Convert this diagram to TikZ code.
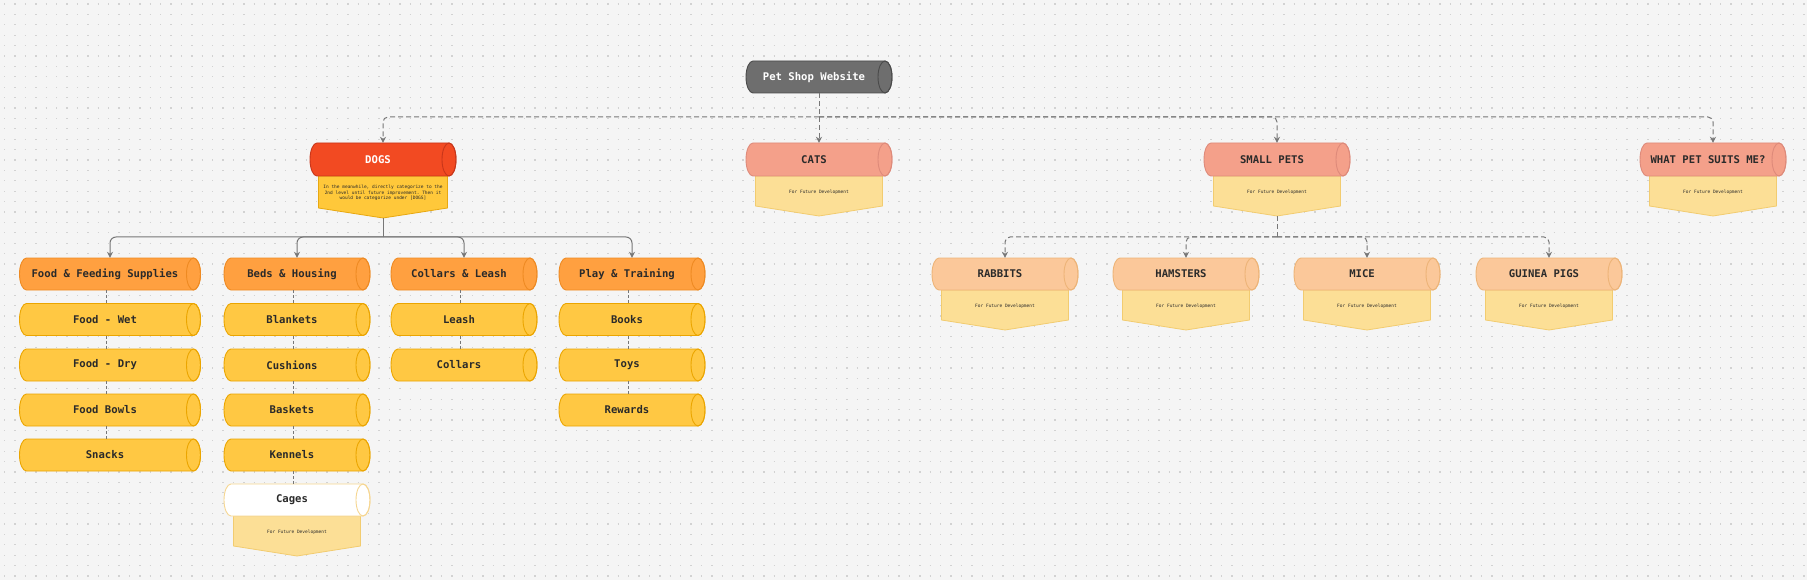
\documentclass[tikz,border=0pt]{standalone}
\usepackage{fontspec}
\setmonofont{DejaVu Sans Mono}
\usetikzlibrary{arrows.meta}
\definecolor{bg}{HTML}{F5F5F5}
\definecolor{dotc}{HTML}{D2D2D2}
\definecolor{rootf}{HTML}{6E6E6E}\definecolor{rootd}{HTML}{4A4A4A}
\definecolor{dogf}{HTML}{F24A22}\definecolor{dogd}{HTML}{C8361A}
\definecolor{lvf}{HTML}{F4A08A}\definecolor{lvd}{HTML}{DE8A7A}
\definecolor{catf}{HTML}{FFA040}\definecolor{catd}{HTML}{EE8A22}
\definecolor{itf}{HTML}{FFC843}\definecolor{itd}{HTML}{EBA500}
\definecolor{notef}{HTML}{FCDF96}\definecolor{noted}{HTML}{F2CC70}
\definecolor{dnotef}{HTML}{FFC83A}\definecolor{dnoted}{HTML}{E8A810}
\definecolor{spf}{HTML}{FBC89A}\definecolor{spd}{HTML}{EDB478}
\definecolor{cagef}{HTML}{FFFFFF}\definecolor{caged}{HTML}{F6D690}
\definecolor{txt}{HTML}{2A2A2A}\definecolor{lnc}{HTML}{777777}
\tikzset{
  lbl/.style={font=\ttfamily\bfseries\fontsize{10.6}{12}\selectfont,text=txt,inner sep=0pt},
  small/.style={font=\ttfamily\fontsize{4.5}{5.6}\selectfont,text=txt,inner sep=0pt,align=center},
  link/.style={draw=lnc,line width=1pt,dashed,dash pattern=on 5pt off 3pt,rounded corners=5pt},
  solidlink/.style={draw=lnc,line width=1pt,rounded corners=6pt},
  tip/.style={-{Stealth[length=6pt,width=6pt]}},
}
% \cyl{name}{cx}{cy}{w}{h}{fill}{draw}{text}
\newcommand\cyl[8]{%
  \pgfmathsetmacro\xa{#2-#4/2}\pgfmathsetmacro\xb{#2+#4/2}%
  \pgfmathsetmacro\yt{#3+#5/2}\pgfmathsetmacro\yb{#3-#5/2}\pgfmathsetmacro\ry{#5/2}%
  \path[fill=#6,draw=#7,line width=0.9pt] (\xa+7,\yt) -- (\xb-7,\yt) arc[start angle=90,end angle=-90,x radius=7,y radius=\ry] -- (\xa+7,\yb) arc[start angle=270,end angle=90,x radius=7,y radius=\ry] -- cycle;
  \draw[#7,line width=0.9pt] (\xb-7,#3) ellipse[x radius=7,y radius=\ry];
  \node[minimum width=#4,minimum height=#5,inner sep=0pt] (#1) at (#2,#3) {};
  \node[lbl] (#1-t) at (#2-5,#3) {#8};
}
% \note{name}{cx}{ytop}{w}{h}{fill}{draw}{text}
\newcommand\notebox[8]{%
  \pgfmathsetmacro\xa{#2-#4/2}\pgfmathsetmacro\xb{#2+#4/2}\pgfmathsetmacro\yb{#3-#5}%
  \path[fill=#6,draw=#7,line width=0.8pt] (\xa,#3) -- (\xb,#3) -- (\xb,\yb+10) -- (#2,\yb) -- (\xa,\yb+10) -- cycle;
  \node[minimum width=#4,minimum height=#5,inner sep=0pt] (#1) at (#2,#3-#5/2) {};
  \node[small] (#1-t) at (#2,#3-#5/2+4) {#8};
}
\begin{document}
\begin{tikzpicture}[x=1pt,y=1pt]
\useasboundingbox (0,0) rectangle (1807,-580);
\fill[bg] (0,0) rectangle (1807,-580);
\foreach \r in {0,...,55} {\draw[dotc,line width=1.3pt,dash pattern=on 1.3pt off 9.1pt] (4,-4-\r*10.4) -- (1807,-4-\r*10.4);}
% level 1
\cyl{root}{819}{-77}{146}{32}{rootf}{rootd}{\color{white}Pet Shop Website}
% level 2
\notebox{dogsn}{383}{-176}{129}{42}{dnotef}{dnoted}{In the meanwhile, directly categorize to the\\2nd level until future improvement. Then it\\would be categorize under [DOGS]}
\cyl{dogs}{383}{-159.5}{146}{33}{dogf}{dogd}{\color{white}DOGS}
\notebox{catsn}{819}{-176}{127}{40}{notef}{noted}{For Future Development}
\cyl{cats}{819}{-159.5}{146}{33}{lvf}{lvd}{CATS}
\notebox{smalln}{1277}{-176}{127}{40}{notef}{noted}{For Future Development}
\cyl{small}{1277}{-159.5}{146}{33}{lvf}{lvd}{SMALL PETS}
\notebox{whatn}{1713}{-176}{127}{40}{notef}{noted}{For Future Development}
\cyl{what}{1713}{-159.5}{146}{33}{lvf}{lvd}{WHAT PET SUITS ME?}
\coordinate (j1) at (819,-117);
\draw[link] (root.south) -- (j1);
\draw[link,tip] (j1) -| (dogs.north);
\draw[link,tip] (j1) -- (cats.north);
\draw[link,tip] (j1) -| (small.north);
\draw[link,tip] (j1) -| (what.north);
% small pets children
\foreach \n/\x/\t in {rab/1005/RABBITS,ham/1186/HAMSTERS,mic/1367/MICE,gui/1549/GUINEA PIGS}{
  \notebox{\n n}{\x}{-290}{127}{40}{notef}{noted}{For Future Development}
  \cyl{\n}{\x}{-274}{146}{32}{spf}{spd}{\t}
}
\coordinate (j2) at (1277,-237);
\draw[link] (smalln.south) -- (j2);
\foreach \n in {rab,ham,mic,gui}{\draw[link,tip] (j2) -| (\n.north);}
% dogs children
\cyl{food}{110}{-274}{181}{32}{catf}{catd}{Food \& Feeding Supplies}
\cyl{beds}{297}{-274}{146}{32}{catf}{catd}{Beds \& Housing}
\cyl{coll}{464}{-274}{146}{32}{catf}{catd}{Collars \& Leash}
\cyl{play}{632}{-274}{146}{32}{catf}{catd}{Play \& Training}
\coordinate (j3) at (383,-237);
\draw[solidlink] (dogsn.south) -- (j3);
\foreach \n in {food,beds,coll,play}{\draw[solidlink,tip] (j3) -| (\n.north);}
% items
\cyl{f1}{110}{-319.5}{181}{32}{itf}{itd}{Food - Wet}
\cyl{f2}{110}{-365}{181}{32}{itf}{itd}{Food - Dry}
\cyl{f3}{110}{-410}{181}{32}{itf}{itd}{Food Bowls}
\cyl{f4}{110}{-455}{181}{32}{itf}{itd}{Snacks}
\cyl{b1}{297}{-319.5}{146}{32}{itf}{itd}{Blankets}
\cyl{b2}{297}{-365}{146}{32}{itf}{itd}{Cushions}
\cyl{b3}{297}{-410}{146}{32}{itf}{itd}{Baskets}
\cyl{b4}{297}{-455}{146}{32}{itf}{itd}{Kennels}
\notebox{b5n}{297}{-516}{127}{40}{notef}{noted}{For Future Development}
\cyl{b5}{297}{-500}{146}{32}{cagef}{caged}{Cages}
\cyl{c1}{464}{-319.5}{146}{32}{itf}{itd}{Leash}
\cyl{c2}{464}{-365}{146}{32}{itf}{itd}{Collars}
\cyl{p1}{632}{-319.5}{146}{32}{itf}{itd}{Books}
\cyl{p2}{632}{-365}{146}{32}{itf}{itd}{Toys}
\cyl{p3}{632}{-410}{146}{32}{itf}{itd}{Rewards}
\foreach \a/\b in {food/f1,f1/f2,f2/f3,f3/f4,beds/b1,b1/b2,b2/b3,b3/b4,b4/b5,coll/c1,c1/c2,play/p1,p1/p2,p2/p3}{
  \draw[lnc,line width=0.8pt,dash pattern=on 3pt off 2pt] ([xshift=-4pt]\a.south) -- ([xshift=-4pt]\b.north);}
\end{tikzpicture}
\end{document}
